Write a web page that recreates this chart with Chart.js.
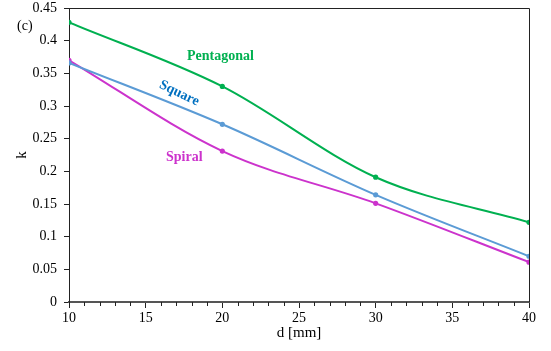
<!DOCTYPE html>
<html>
<head>
<meta charset="utf-8">
<script src="https://cdn.jsdelivr.net/npm/chart.js@4/dist/chart.umd.min.js"></script>
<style>
  html, body { margin: 0; padding: 0; background: #fff; }
  #wrap { width: 551px; height: 351px; }
</style>
</head>
<body>
<div id="wrap"><canvas id="chart"></canvas></div>
<script>
const dValues = [10, 20, 30, 40]
const pentagonal = [0.428, 0.330, 0.191, 0.122]
const square = [0.366, 0.272, 0.164, 0.070]
const spiral = [0.370, 0.231, 0.151, 0.061]

const serif = "'Liberation Serif', 'Times New Roman', serif"

function toPoints(ys){
    let pts = []
    for (let i = 0; i < dValues.length; i++){
        pts.push({x: dValues[i], y: ys[i]})
    }
    return pts
}

// frame, minor ticks and the in-plot labels
const extras = {
    id: 'extras',
    afterDraw(chart){
        const ctx = chart.ctx
        const a = chart.chartArea
        const xs = chart.scales.x
        ctx.save()
        ctx.strokeStyle = '#222'
        ctx.lineWidth = 1
        ctx.beginPath()
        ctx.moveTo(a.left, a.top + 0.5)
        ctx.lineTo(a.right + 0.5, a.top + 0.5)
        ctx.lineTo(a.right + 0.5, a.bottom)
        ctx.stroke()
        // minor ticks on x
        ctx.beginPath()
        for (let v = 11; v < 40; v++){
            if (v % 5 === 0) continue
            const px = Math.round(xs.getPixelForValue(v)) + 0.5
            ctx.moveTo(px, a.bottom)
            ctx.lineTo(px, a.bottom + 4)
        }
        ctx.stroke()

        ctx.font = 'bold 14px ' + serif
        ctx.textBaseline = 'middle'
        ctx.fillStyle = '#00b050'
        ctx.fillText('Pentagonal', 187, 56)
        ctx.fillStyle = '#cc33cc'
        ctx.fillText('Spiral', 166, 157)
        ctx.save()
        ctx.translate(160, 84)
        ctx.rotate(0.45)
        ctx.fillStyle = '#0070c0'
        ctx.fillText('Square', 0, 0)
        ctx.restore()

        ctx.font = '14px ' + serif
        ctx.fillStyle = '#000'
        ctx.fillText('(c)', 17, 26)
        ctx.restore()
    }
}

function series(label, ys, color){
    return {
        label: label,
        data: toPoints(ys),
        borderColor: color,
        backgroundColor: color,
        borderWidth: 2,
        pointRadius: 1.6,
        pointHoverRadius: 1.6,
        cubicInterpolationMode: 'monotone',
        fill: false
    }
}

const ctx = document.getElementById('chart').getContext('2d')
new Chart(ctx, {
    type: 'line',
    data: {
        datasets: [
            series('Pentagonal', pentagonal, '#00b050'),
            series('Square', square, '#5b9bd5'),
            series('Spiral', spiral, '#cc33cc')
        ]
    },
    options: {
        responsive: true,
        maintainAspectRatio: false,
        animation: false,
        layout: { padding: { top: 8, right: 22, left: 0, bottom: 0 } },
        plugins: {
            legend: { display: false },
            tooltip: { enabled: false }
        },
        scales: {
            x: {
                type: 'linear',
                min: 10,
                max: 40,
                afterFit: s => { s.height = 49 },
                ticks: {
                    stepSize: 5,
                    color: '#000',
                    font: { family: serif, size: 14 },
                    padding: 2
                },
                grid: { drawOnChartArea: false, tickLength: 6, color: '#222' },
                border: { color: '#555', width: 2 },
                title: {
                    display: true,
                    text: 'd [mm]',
                    color: '#000',
                    font: { family: serif, size: 15 },
                    padding: { top: 0, bottom: 9 }
                }
            },
            y: {
                min: 0,
                max: 0.45,
                afterFit: s => {
                    s.width = 69
                    s.paddingTop = 0
                    s.paddingBottom = 0
                },
                ticks: {
                    stepSize: 0.05,
                    color: '#000',
                    font: { family: serif, size: 14 },
                    padding: 7,
                    callback: v => String(Math.round(v * 100) / 100)
                },
                grid: { drawOnChartArea: false, tickLength: 5, color: '#222' },
                border: { color: '#222', width: 1 },
                title: {
                    display: true,
                    text: 'k',
                    color: '#000',
                    font: { family: serif, size: 15 },
                    padding: { top: 13, bottom: 0 }
                }
            }
        }
    },
    plugins: [extras]
})
</script>
</body>
</html>
